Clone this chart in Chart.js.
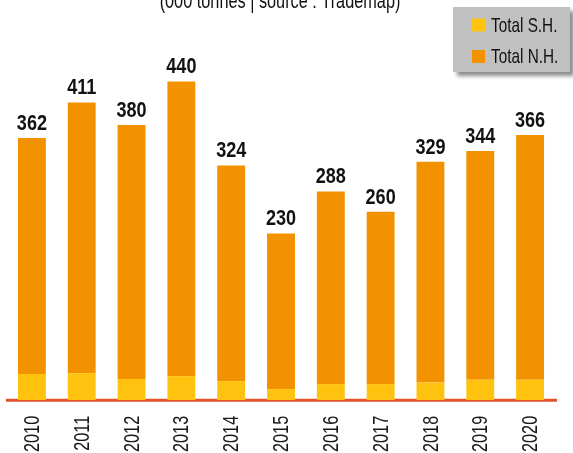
<!DOCTYPE html>
<html>
<head>
<meta charset="utf-8">
<script src="https://cdn.jsdelivr.net/npm/chart.js@4/dist/chart.umd.min.js"></script>
<style>
  html, body { margin: 0; padding: 0; background: #fff; }
  #wrap { width: 573px; height: 453px; position: relative; }
</style>
</head>
<body>
<div id="wrap"><canvas id="c" width="573" height="453"></canvas></div>
<script>
const categories = ['2010','2011','2012','2013','2014','2015','2016','2017','2018','2019','2020'];
const totalSH = [36, 37, 29, 33, 26, 15, 22, 22, 24, 28, 28];
const totalNH = [326, 374, 351, 407, 298, 215, 266, 238, 305, 316, 338];
const seriesNames = ['Total S.H.', 'Total N.H.'];
const seriesColors = ['#ffc20e', '#f39200'];
const subtitle = '(000 tonnes | source : Trademap)';

const FONT = '"Liberation Sans", Arial, sans-serif';
const TICK_SQUEEZE = 0.74;   // emulate a condensed face
const AXIS_H = 53;           // visible height below the plot

function narrowText(ctx, text, x, y, squeeze) {
  ctx.save();
  ctx.translate(x, y);
  ctx.scale(squeeze, 1);
  ctx.fillText(text, 0, 0);
  ctx.restore();
}

const overlay = {
  id: 'overlay',
  beforeDraw(chart) {
    // squeeze the rotated x-axis tick labels along their length
    const ctx = chart.ctx;
    const y0 = chart.chartArea.bottom + 1;
    ctx.save();
    ctx.translate(1, y0);
    ctx.scale(1, TICK_SQUEEZE);
    ctx.translate(0, -y0);
  },
  beforeDatasetsDraw(chart) {
    chart.ctx.restore();
  },
  afterDatasetsDraw(chart) {
    const ctx = chart.ctx;
    const metaTop = chart.getDatasetMeta(chart.data.datasets.length - 1);
    ctx.save();
    ctx.font = 'bold 22px ' + FONT;
    ctx.fillStyle = '#111';
    ctx.textAlign = 'center';
    ctx.textBaseline = 'alphabetic';
    categories.forEach((c, i) => {
      let sum = 0;
      chart.data.datasets.forEach(ds => sum += ds.data[i]);
      const el = metaTop.data[i];
      narrowText(ctx, String(sum), el.x, el.y - 8, 0.82);
    });
    ctx.restore();
  },
  afterDraw(chart) {
    const ctx = chart.ctx;
    ctx.save();
    // subtitle (cut by the top edge, as in the original)
    ctx.font = '22px ' + FONT;
    ctx.fillStyle = '#111';
    ctx.textAlign = 'center';
    ctx.textBaseline = 'alphabetic';
    narrowText(ctx, subtitle, 280, 8, 0.74);
    // legend box
    ctx.shadowColor = 'rgba(0,0,0,0.45)';
    ctx.shadowBlur = 4;
    ctx.shadowOffsetX = 4;
    ctx.shadowOffsetY = 4;
    ctx.fillStyle = '#c0c0c0';
    ctx.fillRect(453, 7, 117, 65);
    ctx.shadowColor = 'transparent';
    ctx.shadowBlur = 0; ctx.shadowOffsetX = 0; ctx.shadowOffsetY = 0;
    const ys = [25, 56.5];
    chart.data.datasets.forEach((ds, k) => {
      ctx.fillStyle = ds.backgroundColor;
      ctx.fillRect(472, ys[k] - 6.5, 13, 13);
      ctx.fillStyle = '#111';
      ctx.font = '21px ' + FONT;
      ctx.textAlign = 'left';
      ctx.textBaseline = 'middle';
      narrowText(ctx, ds.label, 491, ys[k] + 1, 0.73);
    });
    ctx.restore();
  }
};

const axisFull = Math.ceil(AXIS_H / TICK_SQUEEZE);

new Chart(document.getElementById('c'), {
  type: 'bar',
  data: {
    labels: categories,
    datasets: [
      { label: seriesNames[0], data: totalSH, backgroundColor: seriesColors[0], borderWidth: 0 },
      { label: seriesNames[1], data: totalNH, backgroundColor: seriesColors[1], borderWidth: 0 }
    ]
  },
  options: {
    responsive: false,
    animation: false,
    devicePixelRatio: 1,
    layout: { padding: { top: 38, left: 7, right: 18, bottom: AXIS_H - axisFull } },
    datasets: { bar: { categoryPercentage: 1, barPercentage: 0.56 } },
    plugins: { legend: { display: false }, title: { display: false }, tooltip: { enabled: false } },
    scales: {
      x: {
        stacked: true,
        grid: { display: false, drawTicks: false },
        border: { display: true, color: '#e2532b', width: 4 },
        ticks: {
          minRotation: 90, maxRotation: 90, padding: 21,
          autoSkip: false,
          color: '#1a1a1a',
          font: { family: FONT, size: 22 }
        },
        afterFit(s) { s.height = axisFull; s.paddingLeft = 0; s.paddingRight = 0; }
      },
      y: {
        stacked: true,
        display: false,
        min: 0, max: 500
      }
    }
  },
  plugins: [overlay]
});
</script>
</body>
</html>
